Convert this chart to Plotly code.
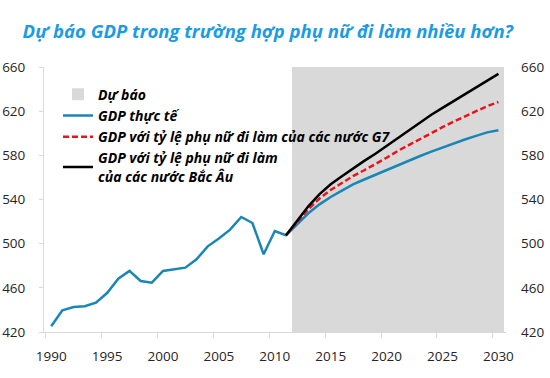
import plotly.graph_objects as go

# ---------------- data ----------------
years_all = list(range(1990, 2031))
gdp_actual = [425.2, 439.7, 442.6, 443.3, 446.6, 455.3, 468.3, 475.3, 466.2, 464.7,
              475.3, 476.8, 478.3, 485.8, 497.6, 504.6, 512.7, 524.2, 518.7, 490.4,
              511.5, 507.6,
              517.6, 527.5, 535.6, 542.3, 548.0, 553.6, 558.1, 562.5, 566.6, 570.9,
              575.3, 579.4, 583.3, 587.2, 590.9, 594.3, 597.6, 600.8, 602.7]

years_fc = list(range(2011, 2031))
gdp_g7 = [507.6, 519.5, 531.2, 540.9, 548.6, 554.9, 561.2, 566.5, 571.8, 577.8,
          584.0, 589.5, 595.0, 600.5, 605.5, 610.5, 615.5, 620.0, 624.5, 628.3]
gdp_nordic = [507.6, 520.8, 533.8, 544.9, 553.8, 561.1, 568.4, 575.0, 581.5, 588.6,
              595.9, 603.2, 610.0, 616.7, 623.0, 629.1, 635.2, 641.4, 647.6, 653.8]

shade_years = list(range(2012, 2031))
shade_top = [660] * len(shade_years)

tick_years = [1990, 1995, 2000, 2005, 2010, 2015, 2020, 2025, 2030]
y_ticks = [420, 460, 500, 540, 580, 620, 660]

title_text = "Dự báo GDP trong trường hợp phụ nữ đi làm nhiều hơn?"
names = ["Dự báo", "GDP thực tế", "GDP với tỷ lệ phụ nữ đi làm của các nước G7",
         "GDP với tỷ lệ phụ nữ đi làm<br>của các nước Bắc Âu"]

FONT = "Open Sans"

fig = go.Figure()
fig.add_trace(go.Bar(x=shade_years, y=shade_top, name=names[0], width=1,
                     marker=dict(color="#d9d9d9", line=dict(width=0)),
                     hoverinfo="skip"))
fig.add_trace(go.Scatter(x=years_all, y=gdp_actual, mode="lines", name=names[1],
                         line=dict(color="#1a86b5", width=2.5)))
fig.add_trace(go.Scatter(x=years_fc, y=gdp_g7, mode="lines", name=names[2],
                         line=dict(color="#e8141b", width=2.5, dash="6px,3px")))
fig.add_trace(go.Scatter(x=years_fc, y=gdp_nordic, mode="lines", name=names[3],
                         yaxis="y2",
                         line=dict(color="#000000", width=2.5)))

fig.update_layout(
    width=550, height=378,
    margin=dict(l=44, r=30, t=67, b=46),
    paper_bgcolor="white", plot_bgcolor="white",
    bargap=0,
    font=dict(family=FONT, size=13.5, color="#262626"),
    title=dict(text=title_text, x=0.487, xref="container", xanchor="center",
               y=1 - 32 / 378, yref="container", yanchor="middle",
               font=dict(family=FONT, size=18.5, color="#1b9ce2",
                         weight="bold", style="italic")),
    legend=dict(x=0.0294, y=0.956, xanchor="left", yanchor="top",
                bgcolor="rgba(0,0,0,0)", tracegroupgap=0,
                font=dict(family=FONT, size=14, color="#000000",
                          weight="bold", style="italic")),
    xaxis=dict(domain=[0, 0.9706], range=[1989.356, 2030.68],
               showgrid=False, zeroline=False, automargin=False,
               tickvals=tick_years, ticktext=[str(t) for t in tick_years],
               ticks="", showline=True, linecolor="#d9d9d9", linewidth=1,
               ticklabelstandoff=12,
               minor=dict(tick0=1989.5, dtick=5, ticks="outside", ticklen=5,
                          tickcolor="#d9d9d9", showgrid=False)),
    yaxis=dict(range=[420, 660], tickvals=y_ticks, showgrid=False, zeroline=False,
               automargin=False,
               showline=True, linecolor="#d9d9d9", linewidth=1,
               ticks="outside", ticklen=4, tickcolor="#d9d9d9",
               ticklabelstandoff=11),
    yaxis2=dict(range=[420, 660], tickvals=y_ticks, overlaying="y", side="right",
                anchor="free", position=1.0, automargin=False,
                showgrid=False, zeroline=False, showline=False, ticks=""),
    showlegend=True,
)

# remove the browser's default 8px body margin so the figure sits at (0, 0)
fig.write_html("out.html", config={"displayModeBar": False},
               post_script="document.body.style.margin='0px';")
